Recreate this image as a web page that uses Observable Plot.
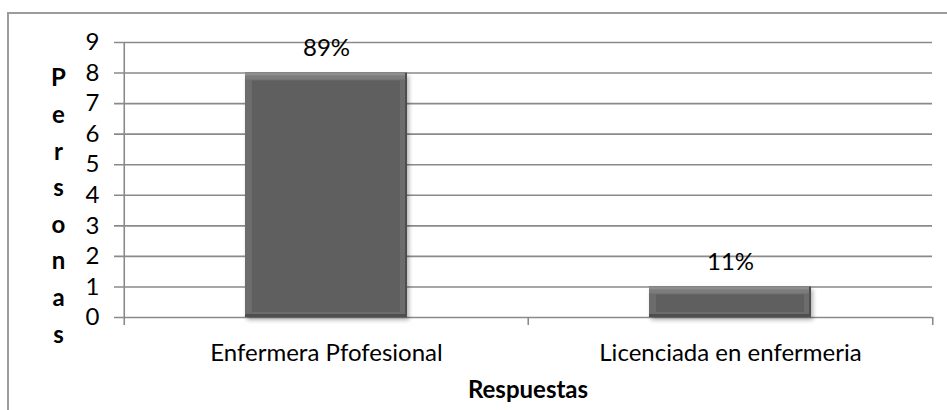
<!DOCTYPE html>
<html>
<head>
<meta charset="utf-8">
<script src="https://cdn.jsdelivr.net/npm/d3@7"></script>
<script src="https://cdn.jsdelivr.net/npm/@observablehq/plot@0.6"></script>
<style>
  html, body { margin: 0; padding: 0; background: #fff; overflow: hidden; }
  #wrap { position: relative; width: 947px; height: 410px; overflow: hidden; }
  #border { position: absolute; left: 7px; top: 12px; width: 1200px; height: 1200px; border: 2px solid #9c9c9c; box-sizing: border-box; }
  #chart { position: absolute; left: 0; top: 0; }
</style>
</head>
<body>
<div id="wrap"><div id="border"></div><div id="chart"></div></div>
<script>
const categories = ["Enfermera Pfofesional", "Licenciada en enfermeria"];
const values = [8, 1];
const percentLabels = ["89%", "11%"];
const yTicks = [0, 1, 2, 3, 4, 5, 6, 7, 8, 9];
const yTitle = "Personas";
const xTitle = "Respuestas";

const data = categories.map((c, i) => ({category: c, value: values[i], label: percentLabels[i]}));

const W = 947, H = 410, mL = 123, mR = 15, mT = 42, mB = 93;
const padInner = 0.6, padOuter = 0.3;
const step = (W - mL - mR) / categories.length;
const gridColor = "#8a8a8a";
const font = "Lato, 'Open Sans', sans-serif";
const fs = 24;
const yTop = yTicks[yTicks.length - 1];

const leftEdges = categories.map((c, i) => ({category: c, top: i === 0 ? yTop : 0}));
const rightEdge = [{category: categories[categories.length - 1], top: 0}];

const chart = Plot.plot({
  width: W, height: H,
  marginLeft: mL, marginRight: mR, marginTop: mT, marginBottom: mB,
  style: {fontFamily: font, fontSize: fs + "px", color: "black", background: "transparent"},
  x: {domain: categories, paddingInner: padInner, paddingOuter: padOuter, label: null},
  y: {domain: [0, yTop], label: null},
  marks: [
    Plot.ruleY(yTicks, {y: d => d, stroke: gridColor, strokeWidth: 1.6, insetLeft: -9}),
    Plot.ruleX(leftEdges, {x: "category", dx: -step / 2, y1: "top", y2: 0, insetBottom: -8, stroke: gridColor, strokeWidth: 1.6}),
    Plot.ruleX(rightEdge, {x: "category", dx: step / 2, y1: "top", y2: 0, insetBottom: -8, stroke: gridColor, strokeWidth: 1.6}),
    // bevelled bar: shadow/base, top highlight, sides, face
    Plot.barY(data, {x: "category", y: "value", fill: "#4e4e4e"}),
    Plot.barY(data, {x: "category", y: "value", fill: "#8e8e8e", insetBottom: 3, insetRight: 2}),
    Plot.barY(data, {x: "category", y: "value", fill: "#7c7c7c", insetTop: 3, insetBottom: 3, insetRight: 2}),
    Plot.barY(data, {x: "category", y: "value", fill: "#6c6c6c", insetTop: 7, insetBottom: 3, insetRight: 2}),
    Plot.barY(data, {x: "category", y: "value", fill: "#5f5f5f", insetTop: 8, insetLeft: 7, insetRight: 7, insetBottom: 5}),
    Plot.text(data, {x: "category", y: "value", text: "label", dy: -17, lineAnchor: "bottom", fontSize: fs, fill: "black"}),
    Plot.axisX({tickSize: 0, tickPadding: 26, fontSize: fs, label: null}),
    Plot.axisY({ticks: yTicks, tickSize: 0, tickPadding: 24, fontSize: fs, label: null, tickFormat: d => String(d)}),
    Plot.text([yTitle.split("").join("\n")], {frameAnchor: "left", dx: -65, dy: 22.8, textAnchor: "middle", lineAnchor: "middle", lineHeight: 1.525, fontWeight: "bold", fontSize: fs}),
    Plot.text([xTitle], {frameAnchor: "bottom", dy: 73.3, textAnchor: "middle", lineAnchor: "middle", fontWeight: "bold", fontSize: fs})
  ]
});
document.getElementById("chart").appendChild(chart);
d3.select(chart).select('g[aria-label="bar"]').style("filter", "drop-shadow(2px 3px 2px rgba(0,0,0,0.3))");
</script>
</body>
</html>
